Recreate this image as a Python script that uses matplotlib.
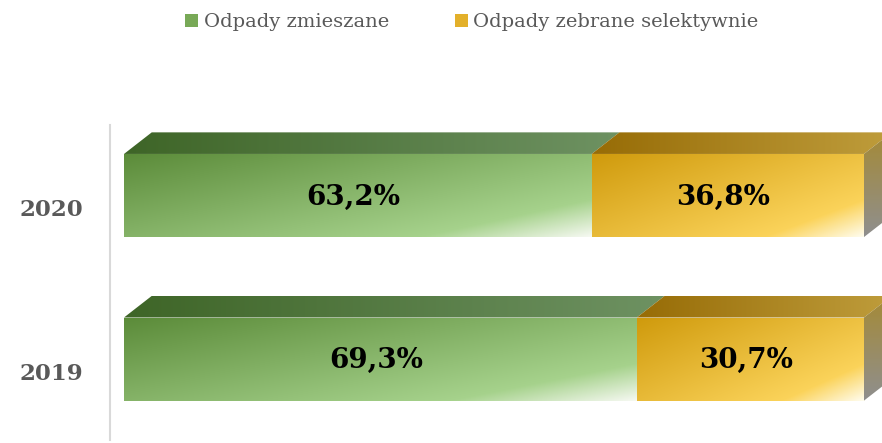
import numpy as np
import matplotlib.pyplot as plt
from matplotlib.colors import to_rgb
from matplotlib.patches import Polygon, Patch
from matplotlib.transforms import ScaledTranslation

years = ["2019", "2020"]
mixed = [69.3, 63.2]
selective = [30.7, 36.8]
series_names = ["Odpady zmieszane", "Odpady zebrane selektywnie"]

# colour stops: front (dark, light, corner), top (left, right)
front_cols = [("#5b8b39", "#a6d28c", "#f6f9f2"), ("#cf9a0c", "#fbd35a", "#fffdf0")]
top_cols = [("#3e6527", "#6e9262"), ("#976c06", "#bf9d3c")]
side_cols = ("#a58a35", "#8f8f8f")
legend_cols = ["#78a957", "#e3b02a"]

DX, DY = 3.75, 0.132  # depth of the 3d effect in data units
BAR_H = 0.508

plt.rcParams["font.family"] = ["DejaVu Serif"]


def front_grad(c0, c1, c2, n=200):
    u = np.linspace(0, 1, n)[None, :]
    v = np.linspace(0, 1, n)[:, None]
    t = 0.55 * u + 0.45 * v
    a, b, c = (np.array(to_rgb(k)) for k in (c0, c1, c2))
    lo = np.clip(t / 0.8, 0, 1)[..., None]
    hi = np.clip((t - 0.8) / 0.2, 0, 1)[..., None]
    img = a + (b - a) * lo
    img = img + (c - img) * hi
    return img


def lin_grad(c0, c1, n=200, vertical=False):
    t = np.linspace(0, 1, n)
    a, b = np.array(to_rgb(c0)), np.array(to_rgb(c1))
    row = a + (b - a) * t[:, None]
    if vertical:
        return np.repeat(row[:, None, :], 2, axis=1)
    return np.repeat(row[None, :, :], 2, axis=0)


def fill_poly(ax, pts, img):
    poly = Polygon(pts, closed=True, facecolor="none", edgecolor="none")
    ax.add_patch(poly)
    xs = [p[0] for p in pts]
    ys = [p[1] for p in pts]
    im = ax.imshow(img, extent=(min(xs), max(xs), min(ys), max(ys)), origin="upper",
                   aspect="auto", interpolation="bilinear", zorder=2)
    im.set_clip_path(poly)


fig = plt.figure(figsize=(8.82, 4.43), dpi=100)
# axes run to the right figure edge so the 3d side faces are not cut off
ax = fig.add_axes([124 / 882, 3 / 443, 758 / 882, 315 / 443])

ypos = np.arange(len(years))
left = np.zeros(len(years))
for s, vals in enumerate([mixed, selective]):
    bars = ax.barh(ypos, vals, height=BAR_H, left=left, color="none", zorder=3)
    for b, v in zip(bars, vals):
        x, y, w, h = b.get_x(), b.get_y(), b.get_width(), b.get_height()
        # front face
        im = ax.imshow(front_grad(*front_cols[s]), extent=(x, x + w, y, y + h),
                       origin="upper", aspect="auto", interpolation="bilinear", zorder=2)
        im.set_clip_path(b)
        # top face
        top = [(x, y + h), (x + w, y + h), (x + w + DX, y + h + DY), (x + DX, y + h + DY)]
        fill_poly(ax, top, lin_grad(*top_cols[s]))
        # right side, only on the last segment
        if s == 1:
            side = [(x + w, y), (x + w, y + h), (x + w + DX, y + h + DY), (x + w + DX, y + DY)]
            fill_poly(ax, side, lin_grad(*side_cols, vertical=True))
        ax.text(x + w / 2 - 0.6, y + h / 2 - 0.01, f"{v:.1f}".replace(".", ",") + "%",
                ha="center", va="center", fontsize=20, fontweight="bold",
                color="black", zorder=5)
    left = left + np.array(vals)

ax.set_xlim(0, 100 * 758 / 740)
ax.set_ylim(-0.495, 1.431)
for sp in ["top", "right", "bottom"]:
    ax.spines[sp].set_visible(False)
ax.spines["left"].set_position(("outward", 10))
ax.spines["left"].set_color("#d9d9d9")
ax.spines["left"].set_linewidth(1.5)

ax.set_xticks([])
ax.set_yticks(ypos)
ax.set_yticklabels(years)
ax.tick_params(axis="y", length=0, pad=19, labelsize=16.5, labelcolor="#595959")
shift = ScaledTranslation(0, -12 / 100, fig.dpi_scale_trans)
for lab in ax.get_yticklabels():
    lab.set_fontweight("bold")
    lab.set_transform(lab.get_transform() + shift)

handles = [Patch(facecolor=c, edgecolor="none") for c in legend_cols]
fig.legend(handles, series_names, loc="upper center", bbox_to_anchor=(0.535, 1.01),
           ncol=2, frameon=False, fontsize=14, handlelength=0.65, handleheight=0.65,
           handletextpad=0.3, columnspacing=3.4, labelcolor="#595959")

fig.savefig("out.png", dpi=100)
